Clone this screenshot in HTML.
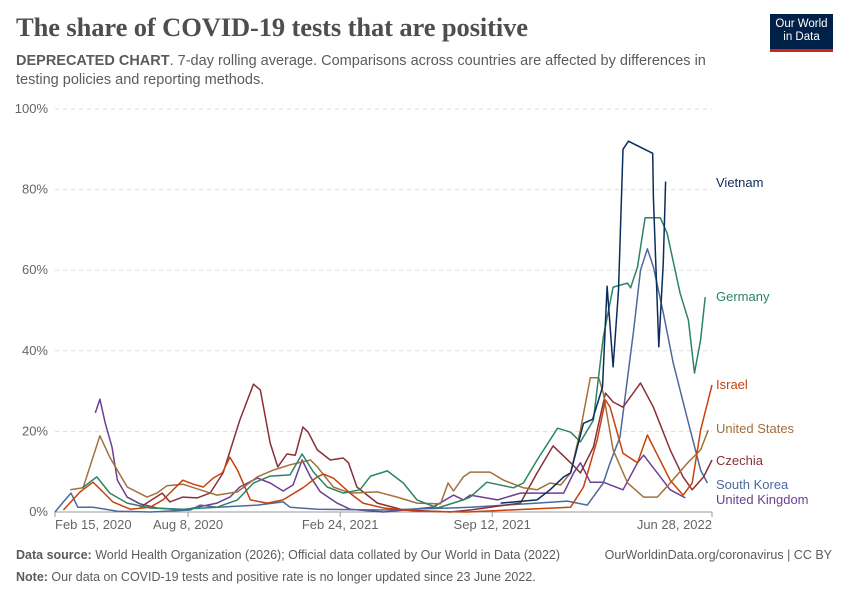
<!DOCTYPE html>
<html><head><meta charset="utf-8"><style>
body{margin:0;background:#fff;font-family:"Liberation Sans",sans-serif;}
#wrap{position:relative;width:850px;height:600px;overflow:hidden;}
h1{position:absolute;left:16px;top:12px;margin:0;font-family:"Liberation Serif",serif;font-weight:bold;font-size:26.5px;color:#4e4e4e;letter-spacing:-0.1px;}
.sub{position:absolute;left:16px;top:52px;width:720px;font-size:14.5px;line-height:19px;color:#5b5b5b;}
.logo{position:absolute;left:770px;top:14px;width:63px;height:38px;background:#002147;color:#fff;font-size:11.5px;line-height:13px;text-align:center;box-sizing:border-box;padding-top:4px;border-bottom:3px solid #ce261e;}
.foot{position:absolute;left:16px;font-size:12.5px;color:#5b5b5b;}
</style></head><body>
<div id="wrap">
<h1>The share of COVID-19 tests that are positive</h1>
<div class="sub"><b>DEPRECATED CHART</b>. 7-day rolling average. Comparisons across countries are affected by differences in testing policies and reporting methods.</div>
<div class="logo">Our World<br>in Data</div>
<svg id="chart" width="850" height="600" style="position:absolute;left:0;top:0"></svg>
<div class="foot" style="top:548px"><b>Data source:</b> World Health Organization (2026); Official data collated by Our World in Data (2022)</div>
<div class="foot" style="top:548px;left:auto;right:18px">OurWorldinData.org/coronavirus | CC BY</div>
<div class="foot" style="top:570px"><b>Note:</b> Our data on COVID-19 tests and positive rate is no longer updated since 23 June 2022.</div>
</div>
<script>
// days since 2020-01-01
const yTicks=[0,20,40,60,80,100];
const xTickDays=[45,220,420,620,909];
const xTickLabels=["Feb 15, 2020","Aug 8, 2020","Feb 24, 2021","Sep 12, 2021","Jun 28, 2022"];
const seriesNames=["Vietnam","Germany","Israel","United States","Czechia","South Korea","United Kingdom"];
const seriesColors=["#0b2d5b","#2c8465","#c7420c","#a2703c","#883039","#4c6a9c","#6d3e91"];
const labelY=[183,297,385,429,461,485,500];
const vietnamDays=[631,679,696,714,723,740,752,765,771,779,786,792,799,831,832,839,845,848];
const vietnamVals=[2.2,3,5.5,8.7,9.7,22,23,31,56,36,55,90,92,89,78,41,62,82];
const germanyDays=[81,100,117,140,170,213,258,285,306,328,354,370,385,403,424,446,460,482,503,521,548,582,591,613,648,661,679,706,723,736,753,766,779,798,802,811,821,841,850,867,878,886,894,900];
const germanyVals=[6,8.7,4.7,2.2,1,0.7,1.2,3,7.2,8.9,9.2,14.4,9.9,6.2,4.7,5.5,8.9,10.2,7.2,3,1,3,3.7,7.4,6,7.2,12.9,20.8,19.8,17.4,22.8,43.4,55.8,56.8,55.6,60.8,73,73,69.2,54.3,47.6,34.5,42.7,53.3];
const israelDays=[56,78,95,108,121,144,170,187,213,227,240,253,265,275,285,302,324,345,371,390,398,411,433,450,477,521,587,700,723,740,758,769,775,792,811,824,832,854,871,883,894,909];
const israelVals=[0.5,5,7.4,5,2.5,0.7,1.2,3,7.9,6.9,6.2,8.4,9.7,13.6,10.4,3,2.2,3,6,8.7,9.4,8.4,4.7,2.2,1,0.2,0,1,1.2,6.2,17.9,27.8,26,14.6,12.2,19.1,16.1,7.9,4.2,7.2,20.3,31.5];
const usDays=[65,82,104,117,140,166,179,192,213,236,258,285,311,332,354,381,390,411,433,469,495,521,552,562,569,582,591,617,635,661,679,696,710,723,736,749,760,766,779,798,819,837,854,877,894,904];
const usVals=[5.5,6,18.9,13.6,6.2,3.7,4.7,6.5,6.9,5.5,4.2,5,8.7,10.4,11.7,12.9,11.2,6.2,4.7,5,3.7,2.2,2,7.2,5.2,8.7,9.9,9.9,7.9,6,5.5,7.2,6.7,9.7,20.3,33.3,33.3,29.5,15.4,7.2,3.7,3.7,7.2,12.2,15.4,20.3];
const czechDays=[157,186,196,213,232,249,266,288,306,315,328,338,350,361,371,378,390,407,424,431,442,469,503,565,591,657,679,700,723,736,753,769,779,792,815,832,854,871,883,898,909];
const czechVals=[1.2,4.7,2.5,3.7,3.5,4.7,9.7,22.8,31.7,30.3,17.1,11.2,14.4,14.1,21.1,19.8,15.4,12.9,13.4,12.2,6.2,2.2,0.5,0,0.5,2.2,9.7,16.4,12.2,9.7,16.1,29.5,27.3,26,32,26,15.4,8.7,5.5,8.7,12.9];
const koreaDays=[45,56,66,75,95,127,170,223,236,258,311,345,354,390,477,565,591,679,719,745,766,775,788,806,815,824,832,845,858,877,894,903];
const koreaVals=[0,2.5,4.7,1.2,1.2,0.2,0,0.5,1.7,1.2,1.7,2.5,1.2,0.7,0.5,1,1.2,2.2,2.7,1.7,7.2,12.2,18.6,45.2,60,65.3,60.8,49.4,37,22.8,10.4,7.2];
const ukDays=[98,104,111,120,127,140,157,179,213,232,258,275,288,311,328,345,358,370,381,394,416,433,477,542,569,582,591,627,657,714,727,736,749,766,792,811,819,837,854,874];
const ukVals=[24.6,28,22.1,16.1,7.9,3.7,2,1,0.5,1.2,2.2,3.7,6.2,8.4,7.2,5.2,6.7,12.9,8.7,5,2.2,0.7,0,1.2,4.2,3,4.2,3,4.7,4.7,9.7,12.2,7.4,7.4,5.5,12.2,14.1,9.7,5.5,3.5];
const seriesDays=[vietnamDays,germanyDays,israelDays,usDays,czechDays,koreaDays,ukDays];
const seriesVals=[vietnamVals,germanyVals,israelVals,usVals,czechVals,koreaVals,ukVals];

const X0=55,X1=712,Y0=512,Y1=109,D0=45,D1=909;
const xs=d=>X0+(d-D0)*(X1-X0)/(D1-D0);
const ys=v=>Y0-v*(Y0-Y1)/100;
const svg=document.getElementById('chart');
const NS='http://www.w3.org/2000/svg';
function mk(t,a){const e=document.createElementNS(NS,t);for(const k in a)e.setAttribute(k,a[k]);svg.appendChild(e);return e;}
yTicks.forEach(t=>{
  if(t>0){const g=mk('line',{x1:X0,x2:X1,y1:ys(t),y2:ys(t),stroke:'#ddd','stroke-dasharray':'4,4'});
  
  }
  const l=mk('text',{x:48,y:ys(t)+4,'text-anchor':'end','font-size':'13','fill':'#666','font-family':'Liberation Sans'});
  l.textContent=t+'%';
  
  
});
const ax=mk('line',{x1:X0,x2:X1,y1:Y0,y2:Y0,stroke:'#999'});


xTickDays.forEach((d,i)=>{
  const t=mk('line',{x1:xs(d),x2:xs(d),y1:Y0,y2:Y0+5,stroke:'#999'});
  
  
  const anchor=i==0?'start':(i==xTickDays.length-1?'end':'middle');
  const l=mk('text',{x:xs(d),y:529,'text-anchor':anchor,'font-size':'13','fill':'#666','font-family':'Liberation Sans'});
  l.textContent=xTickLabels[i];
  
  
});
for(let s=seriesNames.length-1;s>=0;s--){
  const pts=seriesDays[s].map((d,i)=>xs(d).toFixed(1)+','+ys(seriesVals[s][i]).toFixed(1)).join(' ');
  const p=mk('polyline',{points:pts,fill:'none',stroke:seriesColors[s],'stroke-width':'1.5','stroke-linejoin':'round'});
  
  
  const l=mk('text',{x:716,y:labelY[s]+4,'font-size':'13','fill':seriesColors[s],'font-family':'Liberation Sans'});
  l.textContent=seriesNames[s];
  
  
}
</script>
</body></html>
